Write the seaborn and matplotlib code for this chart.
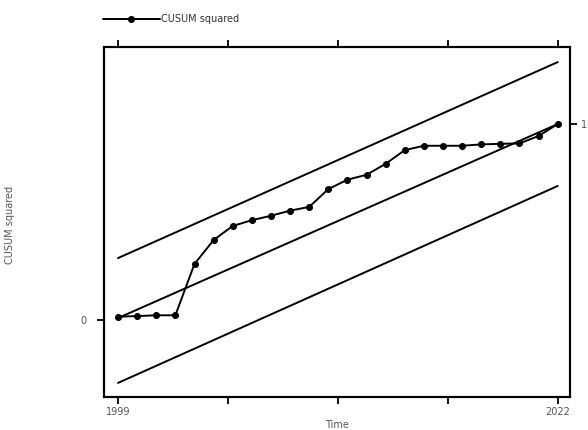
import numpy as np
import pandas as pd
import matplotlib
matplotlib.use("Agg")
import matplotlib.pyplot as plt
import seaborn as sns

# ------------------------------------------------------------
# Data
# ------------------------------------------------------------
years = list(range(1999, 2023))
cusum_sq = [0.017, 0.020, 0.024, 0.024, 0.286, 0.408, 0.480, 0.509,
            0.532, 0.558, 0.577, 0.668, 0.716, 0.741, 0.797, 0.867,
            0.889, 0.889, 0.889, 0.896, 0.899, 0.901, 0.939, 1.000]

# straight reference lines, start/end values only
line_years = [1999, 2022]
expected = [0.01, 1.0]
upper_bound = [0.316, 1.316]
lower_bound = [-0.321, 0.684]

x_ticks = [1999, 2004.75, 2010.5, 2016.25, 2022]
x_tick_labels = ["1999", "", "", "", "2022"]

df = pd.DataFrame({"Time": years, "CUSUM squared": cusum_sq})
bounds = pd.DataFrame({"Time": line_years, "expected": expected,
                       "upper": upper_bound, "lower": lower_bound})

sns.set_style("white")
plt.rcParams["font.family"] = ["DejaVu Sans"]

fig = plt.figure(figsize=(5.88, 4.30), dpi=100)
ax = fig.add_axes([0.177, 0.0767, 0.792, 0.814])

sns.lineplot(data=df, x="Time", y="CUSUM squared", ax=ax, color="black",
             marker="o", markersize=4.3, linewidth=1.4,
             markeredgecolor="black", label="CUSUM squared")
for col in ["expected", "upper", "lower"]:
    sns.lineplot(data=bounds, x="Time", y=col, ax=ax, color="black",
                 linewidth=1.4, legend=False)

ax.set_xlim(1998.27, 2022.63)
ax.set_ylim(-0.393, 1.393)

ax.set_xticks(x_ticks)
ax.set_xticklabels(x_tick_labels)
ax.set_yticks([0])
ax.set_yticklabels(["0"])
ax.tick_params(axis="x", which="both", direction="out", length=5, width=1.3,
               top=True, bottom=True, labelsize=7, labelcolor="#555555",
               color="black", pad=2)
ax.tick_params(axis="y", direction="out", length=5, width=1.3, left=True,
               labelsize=7, labelcolor="#555555", color="black", pad=8)

# right-hand axis carries the "1" tick
ax2 = ax.twinx()
ax2.set_ylim(ax.get_ylim())
ax2.set_yticks([1])
ax2.set_yticklabels(["1"])
ax2.tick_params(axis="y", direction="out", length=5, width=1.3,
                labelsize=7, labelcolor="#555555", color="black", pad=3)

for a in (ax, ax2):
    for sp in a.spines.values():
        sp.set_linewidth(1.5)
        sp.set_color("black")

ax.set_xlabel("Time", fontsize=7, color="#555555", labelpad=2)
ax.set_ylabel("")
ax2.set_ylabel("")
fig.text(0.017, 0.477, "CUSUM squared", rotation=90, fontsize=7,
         color="#555555", ha="center", va="center")

leg = ax.legend(loc="lower left", bbox_to_anchor=(-0.002, 1.065),
                frameon=False, fontsize=7, handlelength=5.8,
                handletextpad=0.2, borderaxespad=0, borderpad=0)
for t in leg.get_texts():
    t.set_color("#333333")

fig.savefig("out.png", dpi=100)
